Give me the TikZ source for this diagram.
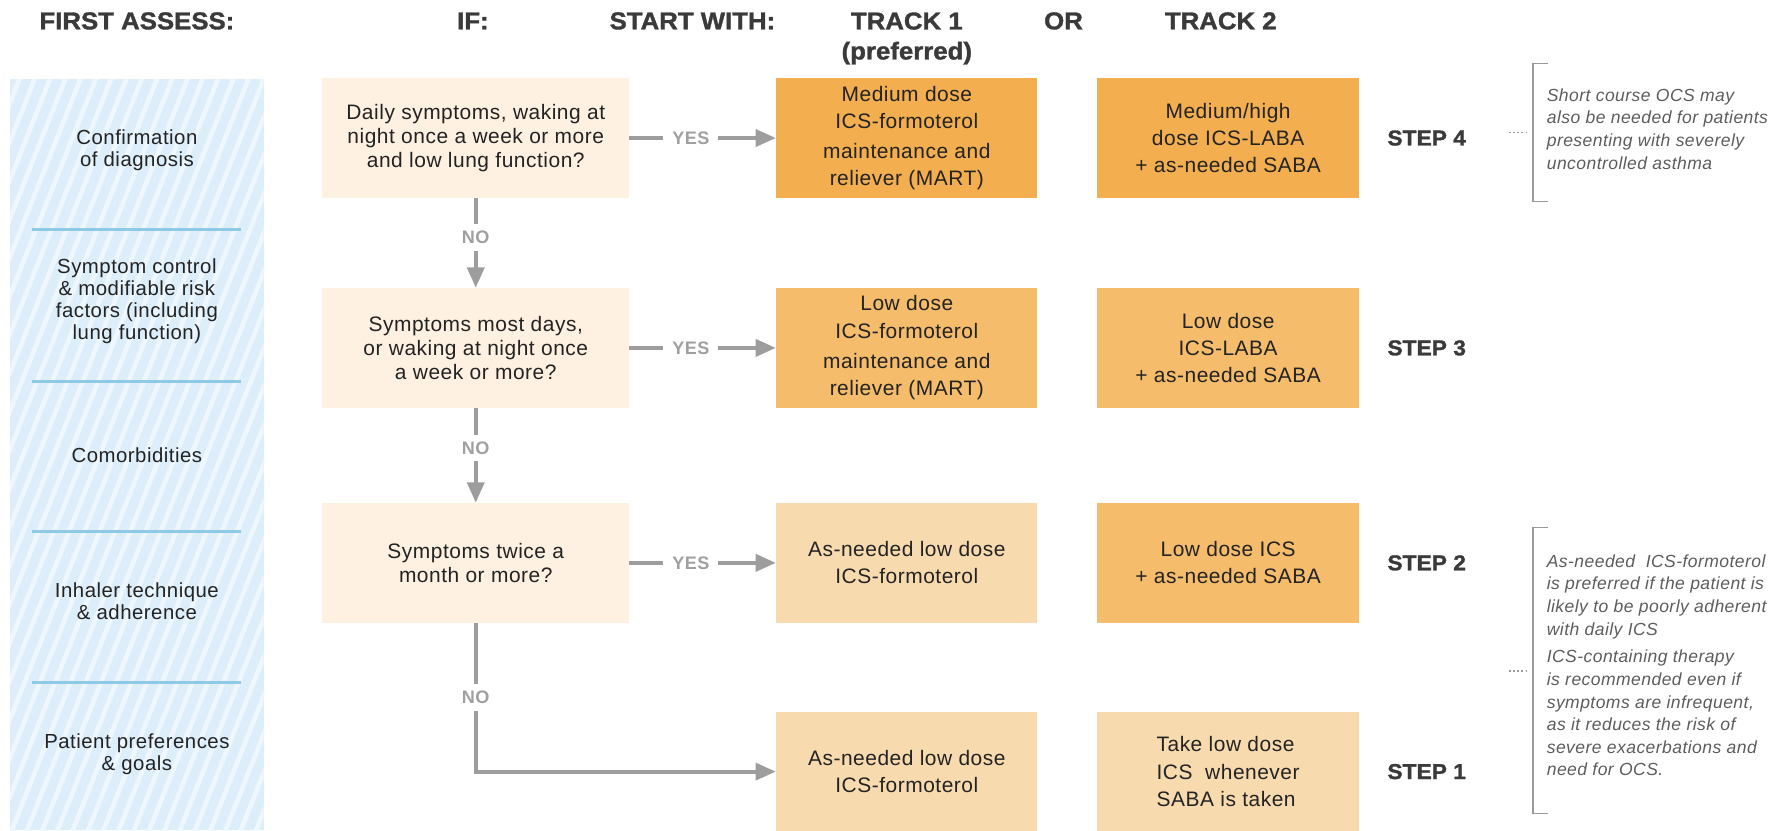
\documentclass[tikz,border=0pt]{standalone}
\usepackage{fontspec}
\setmainfont[LetterSpace=2.5]{Liberation Sans}
\newfontfamily\headfont[FakeStretch=1.06,FakeBold=1.4]{Liberation Sans Bold}
\usetikzlibrary{arrows.meta}

\begin{document}
\begin{tikzpicture}[x=1pt,y=-1pt,
  qbox/.style={fill=qcream,minimum width=271pt,minimum height=106pt,align=center,text=boxtext,font=\fontsize{18.5}{21}\selectfont},
  tbox/.style={minimum width=231pt,minimum height=106pt,align=center,text=boxtext,font=\fontsize{18.5}{24}\selectfont},
  head/.style={text=headgray,align=center,font=\headfont\fontsize{21.5}{26.5}\selectfont},
  steplbl/.style={text=headgray,font=\headfont\fontsize{19}{22}\selectfont},
  arr/.style={draw=arrgray,line width=3.5pt,-{Triangle[length=18pt,width=15pt]}},
  yn/.style={fill=white,text=yngray,inner xsep=8pt,inner ysep=6pt,font=\bfseries\fontsize{16}{18}\selectfont},
  assess/.style={text=boxtext,align=center,font=\fontsize{18}{19.5}\selectfont},
  note/.style={text=notegray,align=left,anchor=west,inner sep=0pt,font=\itshape\fontsize{15.5}{20}\selectfont},
  bracket/.style={draw=brgray,line width=1.2pt},
  dots/.style={draw=brgray,line width=1.2pt,dash pattern=on 1.2pt off 2.4pt}]
\definecolor{qcream}{HTML}{FEF1E1}
\definecolor{orangedark}{HTML}{F3AE4F}
\definecolor{orangemid}{HTML}{F5BC6C}
\definecolor{peach}{HTML}{F8DAAF}
\definecolor{panelblue}{HTML}{DDEEFB}
\definecolor{stripeblue}{HTML}{EEF7FD}
\definecolor{divblue}{HTML}{8ECAE8}
\definecolor{boxtext}{HTML}{232323}
\definecolor{headgray}{HTML}{3A3A3A}
\definecolor{arrgray}{HTML}{9D9D9D}
\definecolor{yngray}{HTML}{A0A0A0}
\definecolor{notegray}{HTML}{5C5C5C}
\definecolor{brgray}{HTML}{9A9A9A}
\useasboundingbox (0,0) rectangle (1568,734);

% headings
\node[head] (hassess) at (121,18.5) {FIRST ASSESS:};
\node[head] (hif) at (418,18.5) {IF:};
\node[head] (hstart) at (612,18.5) {START WITH:};
\node[head] (htrack1) at (801.5,34) {TRACK 1\\(preferred)};
\node[head] (hor) at (940,18.5) {OR};
\node[head] (htrack2) at (1079,18.5) {TRACK 2};

% striped panel
\fill[panelblue] (9,70) rectangle (233,734);
\begin{scope}
  \clip (9,70) rectangle (233,734);
  \foreach \s in {-262,-248.5,...,240}
    \draw[stripeblue,line width=4pt] (\s,740) -- ++(268,-676);
\end{scope}
\foreach \y in {203,337,470,603}
  \draw[divblue,line width=2.5pt] (28,\y) -- (213,\y);
\foreach \txt/\y [count=\i] in {{Confirmation\\of diagnosis}/133,
    {Symptom control\\\& modifiable risk\\factors (including\\lung function)}/266,
    {Comorbidities}/402,{Inhaler technique\\\& adherence}/531,
    {Patient preferences\\\& goals}/667}
  \node[assess] (assess\i) at (121,\y) {\txt};

% questions
\node[qbox] (q1) at (420.5,122) {Daily symptoms, waking at\\night once a week or more\\and low lung function?};
\node[qbox] (q2) at (420.5,307.5) {Symptoms most days,\\or waking at night once\\a week or more?};
\node[qbox] (q3) at (420.5,497.5) {Symptoms twice a\\month or more?};

% treatments
\node[tbox,fill=orangedark] (t4a) at (801.5,122) {Medium dose\\ICS-formoterol\\[3pt]maintenance and\\reliever (MART)};
\node[tbox,fill=orangedark] (t4b) at (1085.5,122) {Medium/high\\dose ICS-LABA\\+ as-needed SABA};
\node[tbox,fill=orangemid] (t3a) at (801.5,307.5) {Low dose\\ICS-formoterol\\[3pt]maintenance and\\reliever (MART)};
\node[tbox,fill=orangemid] (t3b) at (1085.5,307.5) {Low dose\\ICS-LABA\\+ as-needed SABA};
\node[tbox,fill=peach] (t2a) at (801.5,497.5) {As-needed low dose\\ICS-formoterol};
\node[tbox,fill=orangemid] (t2b) at (1085.5,497.5) {Low dose ICS\\+ as-needed SABA};
\node[tbox,fill=peach] (t1a) at (801.5,682) {As-needed low dose\\ICS-formoterol};
\node[tbox,fill=peach,align=left] (t1b) at (1085.5,682) {Take low dose\\ICS\ \ whenever\\SABA is taken};

\foreach \n/\y in {4/122,3/307.5,2/497.5,1/682}
  \node[steplbl] (step\n) at (1261,\y) {STEP \n};

% arrows
\draw[arr] (q1) -- node[yn,pos=0.42] {YES} (t4a);
\draw[arr] (q2) -- node[yn,pos=0.42] {YES} (t3a);
\draw[arr] (q3) -- node[yn,pos=0.42] {YES} (t2a);
\draw[arr] (q1) -- node[yn,pos=0.44] {NO} (q2);
\draw[arr] (q2) -- node[yn,pos=0.42] {NO} (q3);
\draw[arr] (q3) |- node[yn,pos=0.25] {NO} (t1a);

% side notes
\draw[bracket] (1368,56) -- (1355,56) -- (1355,178) -- (1368,178);
\draw[dots] (1334,117) -- (1350,117);
\node[note] (note4) at (1367,114) {Short course OCS may\\also be needed for patients\\presenting with severely\\uncontrolled asthma};
\draw[bracket] (1368,466) -- (1355,466) -- (1355,719) -- (1368,719);
\draw[dots] (1334,593) -- (1350,593);
\node[note] (note12) at (1367,588) {As-needed\ \ ICS-formoterol\\is preferred if the patient is\\likely to be poorly adherent\\with daily ICS\\[4.5pt]ICS-containing therapy\\is recommended even if\\symptoms are infrequent,\\as it reduces the risk of\\severe exacerbations and\\need for OCS.};
\end{tikzpicture}
\end{document}
